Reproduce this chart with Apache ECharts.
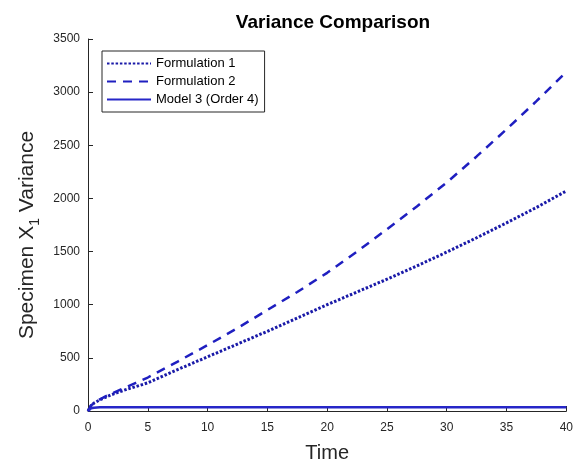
<!DOCTYPE html>
<html>
<head>
<meta charset="utf-8">
<script src="https://cdn.jsdelivr.net/npm/echarts@6/dist/echarts.min.js"></script>
<style>html,body{margin:0;padding:0;background:#fff}#c{width:576px;height:468px}</style>
</head>
<body>
<div id="c"></div>
<script>
const time = [0, 0.25, 0.5, 1, 1.5, 2, 3, 4, 5, 7.5, 10, 12.5, 15, 17.5, 20, 22.5, 25, 27.5, 30, 32.5, 35, 37.5, 40];
const formulation1 = [0, 50, 75, 105, 130, 155, 195, 230, 265, 390, 510, 630, 750, 875, 1000, 1120, 1240, 1365, 1495, 1630, 1770, 1915, 2070];
const formulation2 = [0, 50, 75, 110, 140, 165, 215, 265, 315, 465, 620, 780, 950, 1120, 1300, 1500, 1710, 1925, 2150, 2395, 2650, 2915, 3190];
const model3 = [0, 25, 30, 35, 35, 35, 35, 35, 35, 35, 35, 35, 35, 35, 35, 35, 35, 35, 35, 35, 35, 35, 35];
const seriesNames = ['Formulation 1', 'Formulation 2', 'Model 3 (Order 4)'];
const xTicks = [0, 5, 10, 15, 20, 25, 30, 35, 40];
const yTicks = [0, 500, 1000, 1500, 2000, 2500, 3000, 3500];

const pairs = v => time.map((t, i) => [t, v[i]]);
const axisCol = '#262626';
const font = 'Liberation Sans, Arial, sans-serif';

const chart = echarts.init(document.getElementById('c'));
chart.setOption({
  animation: false,
  textStyle: { fontFamily: font },
  title: {
    text: 'Variance Comparison', left: 328, top: 8, textAlign: 'center',
    textStyle: { fontSize: 19, fontWeight: 'bold', color: '#000', fontFamily: font }
  },
  grid: { left: 88, right: 8, top: 39, bottom: 51 },
  legend: {
    left: 102, top: 51, orient: 'vertical', itemGap: 5, itemWidth: 44, itemHeight: 13,
    borderColor: axisCol, borderWidth: 1, backgroundColor: '#fff', padding: [6, 6, 6, 4],
    itemStyle: { opacity: 0 },
    textStyle: { fontSize: 13, lineHeight: 13, color: '#000', fontFamily: font },
    data: seriesNames
  },
  xAxis: {
    type: 'value', min: xTicks[0], max: xTicks[xTicks.length - 1], interval: 5,
    name: 'Time', nameLocation: 'middle', nameGap: 32,
    nameTextStyle: { fontSize: 20, color: axisCol, fontFamily: font },
    axisLine: { lineStyle: { color: axisCol } },
    axisTick: { inside: true, length: 5, lineStyle: { color: axisCol } },
    axisLabel: { fontSize: 12, color: axisCol, margin: 11 },
    splitLine: { show: false }
  },
  yAxis: {
    type: 'value', min: yTicks[0], max: yTicks[yTicks.length - 1], interval: 500,
    name: 'Specimen X{sub|1} Variance', nameLocation: 'middle', nameGap: 59,
    nameTextStyle: {
      fontSize: 21, color: axisCol, fontFamily: font, lineHeight: 30, verticalAlign: 'middle',
      padding: [0, 20, 0, 0],
      rich: { sub: { fontSize: 14, color: axisCol, fontFamily: font, verticalAlign: 'bottom', lineHeight: 30, padding: [10, 0, 0, 0] } }
    },
    axisLine: { show: true, lineStyle: { color: axisCol } },
    axisTick: { show: true, inside: true, length: 5, lineStyle: { color: axisCol } },
    axisLabel: { fontSize: 12, color: axisCol, margin: 8, formatter: v => String(v) },
    splitLine: { show: false }
  },
  series: [
    { name: seriesNames[0], type: 'line', data: pairs(formulation1), showSymbol: false, symbol: 'none',
      lineStyle: { color: '#1a1aa8', width: 3, type: [2.5, 1.8] }, itemStyle: { color: '#1a1aa8' } },
    { name: seriesNames[1], type: 'line', data: pairs(formulation2), showSymbol: false, symbol: 'none',
      lineStyle: { color: '#1f1fc0', width: 2.5, type: [9, 7] }, itemStyle: { color: '#1f1fc0' } },
    { name: seriesNames[2], type: 'line', data: pairs(model3), showSymbol: false, symbol: 'none',
      lineStyle: { color: '#2626c8', width: 2.5, type: 'solid' }, itemStyle: { color: '#2626c8' } }
  ]
});
</script>
</body>
</html>
